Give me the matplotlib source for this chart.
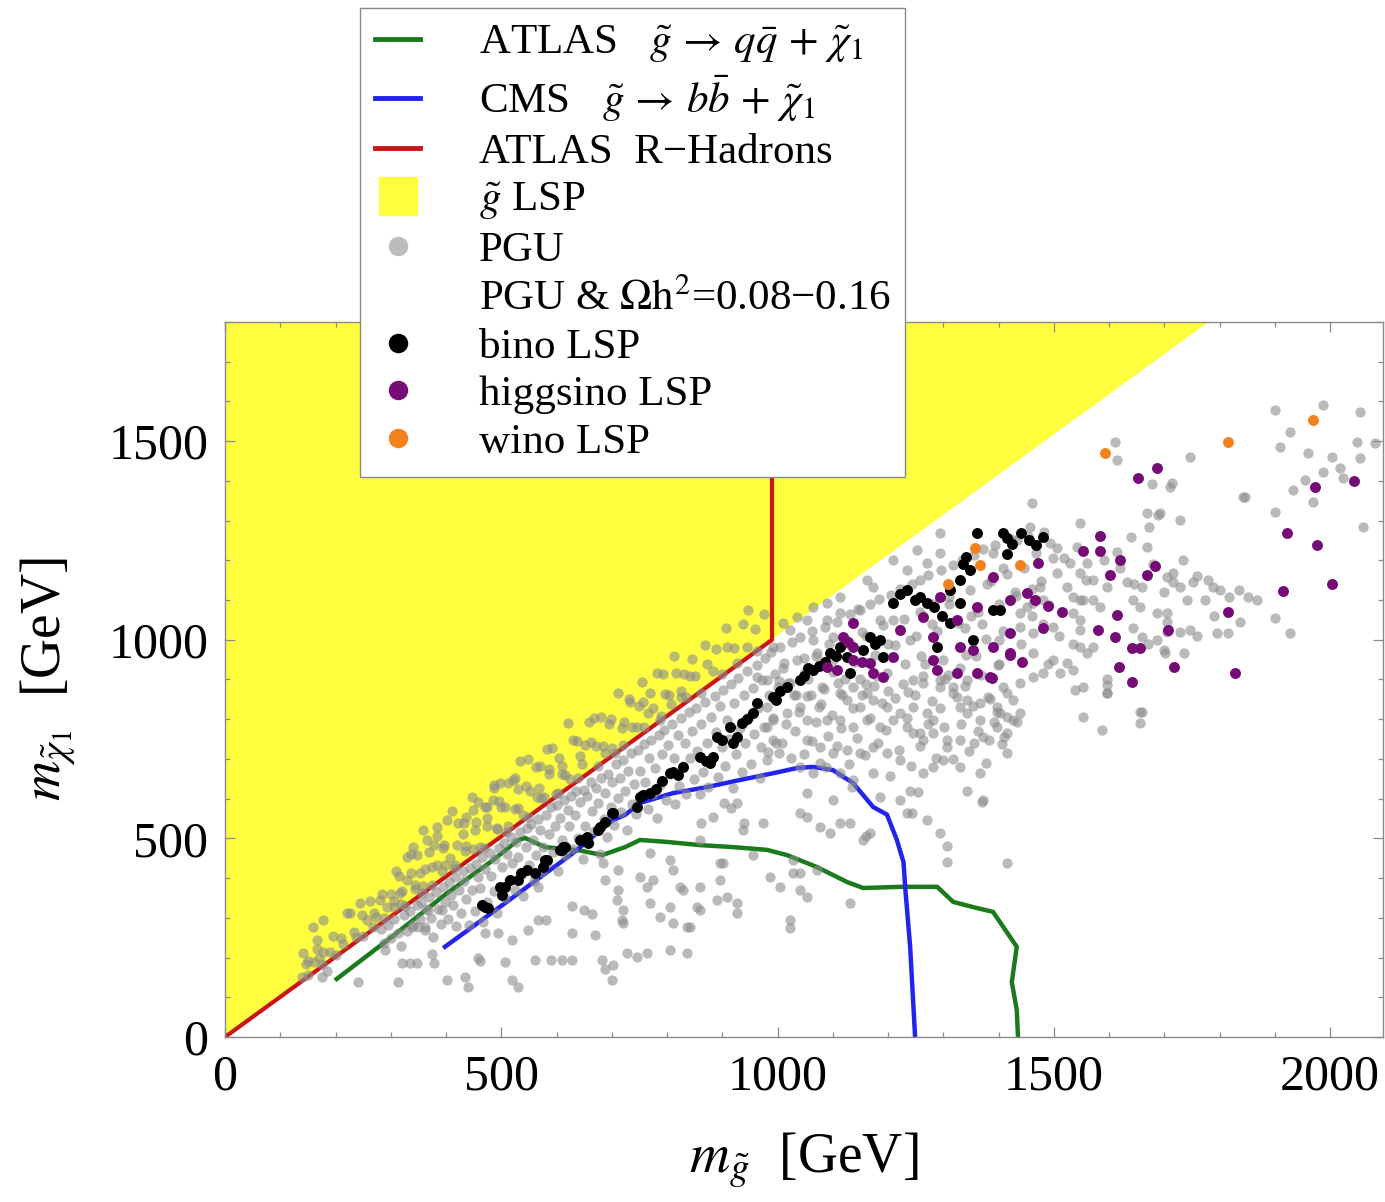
import numpy as np
import matplotlib.pyplot as plt
from matplotlib.lines import Line2D
from matplotlib.ticker import MultipleLocator

plt.rcParams['font.family'] = ['Liberation Serif', 'DejaVu Serif']
plt.rcParams['mathtext.fontset'] = 'stix'

# exclusion contours (m_gluino, m_neutralino) in GeV
atlas_x = [202, 300, 400, 480, 531, 543, 579, 640, 683, 724, 751, 800, 860, 920, 981,
           1017, 1071, 1126, 1155, 1222, 1289, 1318, 1354, 1390, 1433, 1424, 1433, 1435]
atlas_y = [146, 250, 360, 440, 496, 501, 478, 470, 458, 478, 496, 491, 483, 478, 471,
           458, 428, 390, 375, 378, 378, 340, 327, 315, 227, 138, 68, 5]
cms_x = [398, 500, 630, 702, 724, 751, 811, 872, 932, 992, 1035, 1064, 1100, 1137, 1173,
         1198, 1216, 1228, 1231, 1240, 1249]
cms_y = [227, 330, 463, 546, 559, 589, 614, 629, 647, 664, 677, 680, 672, 639, 579,
         560, 496, 440, 378, 227, 0]
rhad_x = [0, 990, 990]
rhad_y = [0, 1000, 1800]

# gluino LSP region
glu_lsp_x = [0, 1780, 0]
glu_lsp_y = [0, 1800, 1800]

# PGU points above the m_chi = m_gluino line
pgu_yellow = [
    (140, 151), (147, 184), (150, 156), (161, 188), (166, 222), (175, 184), (177, 214), (190, 213),
    (196, 253), (200, 206), (210, 249), (214, 234), (227, 311), (233, 265), (237, 252), (248, 306),
    (250, 255), (263, 343), (269, 312), (273, 302), (284, 360), (288, 300), (301, 361), (306, 328),
    (309, 417), (320, 367), (325, 330), (337, 413), (343, 383), (347, 457), (358, 380), (361, 424),
    (374, 383), (379, 483), (383, 432), (395, 476), (398, 432), (411, 570), (417, 432), (420, 483),
    (432, 538), (436, 480), (449, 474), (455, 541), (458, 591), (469, 475), (474, 551), (487, 635),
    (492, 527), (496, 595), (507, 578), (512, 531), (524, 652), (530, 576), (534, 694), (545, 633),
    (549, 554), (562, 679), (568, 627), (571, 602), (583, 725), (587, 663), (599, 611), (605, 702),
    (609, 662), (620, 790), (625, 649), (637, 745), (643, 707), (646, 686), (658, 794), (662, 743),
    (675, 682), (680, 805), (684, 733), (695, 788), (700, 728), (712, 865), (718, 779), (721, 736),
    (733, 844), (737, 780), (750, 832), (755, 894), (759, 780), (770, 867), (775, 829), (787, 797),
    (793, 913), (796, 863), (808, 839), (812, 959), (825, 871), (830, 915), (834, 857), (846, 951),
    (850, 909), (862, 867), (868, 988), (872, 940), (884, 921), (888, 977), (900, 914), (906, 1030),
    (909, 981), (921, 979), (926, 942), (938, 1040), (944, 981), (947, 1074), (959, 1028),
    (963, 971), (976, 1066),
    (305, 342), (314, 406), (318, 334), (330, 396), (336, 461), (344, 373), (353, 412), (357, 362),
    (369, 466), (375, 427), (383, 507), (392, 417), (396, 484), (408, 451), (414, 426), (422, 539),
    (431, 512), (435, 469), (447, 605), (453, 522), (461, 479), (470, 579), (474, 531), (486, 627),
    (492, 523), (500, 580), (509, 517), (513, 640), (525, 575), (531, 625), (539, 559), (548, 700),
    (552, 618), (564, 605), (570, 683), (578, 604), (587, 674), (591, 727), (603, 614), (609, 681),
    (615, 659), (629, 747), (638, 653), (651, 734), (667, 804), (672, 732), (688, 715), (699, 800),
    (706, 715), (722, 793), (731, 851), (745, 780), (757, 843), (766, 815), (781, 916), (789, 809),
    (803, 862), (817, 916), (826, 857), (841, 910),
    (141, 211), (160, 277), (166, 245), (178, 295), (220, 312), (244, 337), (257, 295), (268, 277),
    (280, 345), (293, 327), (317, 362), (329, 453), (340, 478), (358, 521), (365, 496), (383, 529),
    (401, 546), (437, 554), (449, 571), (474, 579), (485, 597), (498, 639), (521, 647),
]

# PGU points in the dense band just below the diagonal
pgu_band = [
    (283, 271), (288, 236), (295, 281), (301, 249), (306, 297), (313, 262), (318, 229), (324, 307),
    (329, 268), (335, 318), (341, 281), (347, 333), (352, 297), (355, 341), (361, 270), (364, 322),
    (369, 352), (373, 299), (377, 251), (382, 366), (386, 323), (391, 284), (394, 378), (398, 341),
    (403, 296), (405, 389), (409, 358), (412, 331), (416, 402), (418, 279), (423, 371), (427, 312),
    (430, 418), (433, 392), (437, 347), (441, 283), (444, 426), (447, 369), (452, 318), (455, 436),
    (458, 402), (461, 376), (465, 452), (467, 290), (471, 423), (475, 339), (479, 463), (482, 405),
    (486, 368), (489, 448), (493, 311), (496, 476), (501, 427), (504, 488), (507, 349), (510, 461),
    (514, 396), (517, 503), (520, 439), (524, 369), (527, 491), (530, 452), (534, 517), (537, 411),
    (540, 355), (544, 479), (547, 527), (551, 433), (554, 536), (557, 497), (560, 393), (563, 458),
    (567, 548), (570, 521), (573, 416), (576, 479), (580, 559), (583, 438), (587, 511), (590, 578),
    (593, 466), (597, 531), (601, 584), (603, 417), (606, 551), (610, 496), (613, 597), (616, 458),
    (620, 571), (623, 531), (626, 606), (629, 473), (633, 559), (636, 618), (639, 501), (643, 591),
    (647, 448), (649, 623), (652, 531), (656, 606), (659, 488), (662, 641), (665, 568), (668, 519),
    (672, 627), (675, 589), (678, 461), (681, 651), (685, 549), (688, 613), (691, 503), (694, 662),
    (698, 579), (701, 641), (704, 533), (708, 686), (711, 602), (714, 651), (717, 566), (721, 697),
    (724, 619), (727, 521), (730, 669), (734, 714), (737, 587), (741, 638), (744, 561), (747, 723),
    (751, 669), (754, 608), (758, 737), (761, 641), (765, 574), (768, 703), (771, 748), (774, 611),
    (778, 677), (781, 552), (785, 759), (788, 634), (791, 713), (795, 773), (798, 596), (802, 734),
    (805, 661), (809, 789), (812, 702), (815, 587), (819, 759), (822, 633), (825, 804), (829, 681),
    (832, 741), (835, 612), (839, 818), (842, 703), (846, 771), (849, 649), (852, 829), (855, 721),
    (859, 611), (862, 788), (865, 668), (869, 843), (872, 741), (875, 629), (879, 806), (882, 702),
    (886, 859), (889, 769), (892, 654), (896, 833), (899, 731), (902, 873), (905, 681), (909, 798),
    (912, 751), (915, 889), (919, 628), (922, 841), (925, 712), (929, 903), (932, 778), (935, 667),
    (939, 861), (942, 739), (945, 921), (949, 806), (952, 688), (955, 879), (958, 763), (962, 937),
    (965, 829), (968, 651), (972, 898), (975, 781), (978, 953), (982, 718), (985, 861), (988, 968),
    (992, 802), (995, 913), (998, 741),
]

# sparse PGU points well below the diagonal
pgu_sparse = [
    (150, 190), (170, 200), (176, 151), (185, 165), (241, 138), (290, 219), (313, 138), (320, 186),
    (335, 186), (338, 277), (348, 186), (350, 277), (362, 277), (367, 320), (375, 210), (378, 186),
    (392, 320), (402, 143), (434, 150), (440, 125), (458, 200), (461, 190), (471, 262), (494, 262),
    (507, 188), (520, 244), (520, 143), (530, 125), (548, 270), (561, 195), (567, 295), (567, 378),
    (580, 295), (590, 195), (610, 195), (628, 195), (628, 262), (628, 330), (650, 320), (665, 310),
    (670, 257), (683, 195), (688, 170), (688, 395), (700, 143), (702, 180), (711, 370), (718, 295),
    (711, 420), (684, 438), (709, 345), (720, 320), (720, 287), (727, 211), (745, 201), (751, 403),
    (764, 211), (764, 378), (769, 463), (769, 337), (775, 395), (787, 302), (805, 445), (805, 327),
    (805, 219), (811, 420), (811, 287), (824, 378), (829, 370), (836, 277), (836, 211), (842, 277),
    (854, 327), (860, 378), (860, 320), (860, 496), (862, 539), (883, 554), (890, 345), (896, 395),
    (896, 438), (902, 438), (903, 589), (908, 352), (916, 576), (927, 337), (927, 312), (927, 589),
    (938, 521), (940, 539), (956, 458), (974, 539), (986, 403), (1005, 378), (1023, 295),
    (1023, 274), (1028, 413), (1028, 445), (1041, 413), (1041, 370), (1041, 564), (1053, 352),
    (1053, 554), (1053, 614), (1071, 420), (1077, 529), (1095, 514), (1100, 597), (1113, 539),
    (1131, 539), (1131, 337), (1135, 629), (1155, 496), (1161, 505), (1167, 514), (1243, 564),
    (1254, 617), (1306, 440), (1366, 664), (1370, 592), (1372, 597), (1415, 438),
]

# PGU points at heavier gluino masses
pgu_upper = [
    (1010, 1042), (1035, 1057), (1064, 1082), (1090, 1092), (1113, 1108), (1162, 1150), (1209, 1200),
    (1252, 1226), (1294, 1268), (992, 982), (1023, 1024), (1035, 949), (1053, 1050), (1064, 999),
    (1090, 1050), (1100, 1007), (1113, 1067), (1149, 1075), (1173, 1133), (1186, 1050), (1209, 1050),
    (1234, 1175), (1258, 1150), (1271, 1193), (1294, 1218), (1390, 1218), (1433, 1251), (963, 906),
    (981, 899), (1002, 895), (1023, 891), (981, 831), (992, 798), (1017, 815), (1041, 831),
    (1053, 798), (1075, 831), (1090, 798), (1113, 866), (1137, 881), (1162, 866), (1126, 848),
    (1149, 831), (1173, 848), (1198, 831), (1222, 815), (1246, 831), (1271, 815), (1113, 798),
    (1137, 780), (1162, 798), (1186, 780), (1209, 798), (1234, 780), (1258, 765), (1281, 798),
    (1306, 748), (1053, 748), (1077, 731), (1100, 714), (1126, 722), (1149, 714), (1173, 731),
    (1198, 714), (1222, 697), (1041, 680), (1064, 664), (1088, 680), (1113, 664), (1137, 647),
    (1173, 664), (981, 780), (992, 748), (1003, 714), (970, 731), (981, 697), (1246, 765),
    (1263, 748), (1281, 765), (1306, 731), (1330, 748), (1356, 740), (1382, 748), (1263, 664),
    (1281, 680), (1300, 697), (1330, 680), (1343, 620), (1186, 604), (1222, 597), (1234, 564),
    (1240, 620), (1271, 546), (1294, 513), (1306, 480), (1330, 831), (1343, 815), (1366, 798),
    (1397, 780), (1415, 714), (1294, 881), (1318, 866), (1343, 848), (1366, 840), (1397, 831),
    (1439, 815), (1246, 899), (1263, 891), (1294, 899), (1318, 881), (1343, 899), (1397, 818),
    (1415, 805), (1433, 793), (1372, 755), (1409, 755), (1587, 773), (1660, 818), (1596, 866),
    (1596, 901), (1538, 873), (1381, 856), (1415, 866), (1611, 1498), (1614, 1452), (1747, 1460),
    (1900, 1578), (1988, 1591), (2054, 1573), (1928, 1523), (1910, 1485), (1960, 1470),
    (2003, 1460), (2049, 1498), (2081, 1495), (2018, 1432), (2054, 1457), (1988, 1422), (2024, 1407),
    (1955, 1402), (1933, 1377), (1969, 1347), (1846, 1359), (1900, 1321), (2060, 1284), (1678, 1392),
    (1710, 1384), (1689, 1314), (1728, 1301), (1673, 1284), (1669, 1233), (1734, 1200), (1752, 1146),
    (1705, 1158), (1716, 1168), (1788, 1133), (1800, 1125), (1818, 1108), (1836, 1125), (1852, 1108),
    (1868, 1100), (1774, 1100), (1837, 1045), (1900, 1054), (1928, 1017), (1816, 1017), (1795, 1017),
    (1747, 1024), (1741, 1100), (1705, 1045), (1701, 966), (1656, 818), (1596, 886), (1547, 1024),
    (1493, 1243), (1506, 1230), (1518, 1205), (1529, 1193), (1547, 1168), (1559, 1150), (1571, 1150),
    (1547, 1100), (1571, 1100), (1584, 1082), (1632, 1146), (1645, 1140), (1660, 1133), (1716, 1146),
    (1728, 1133), (1643, 1100), (1656, 1082), (1686, 1067), (1705, 1067), (1547, 982), (1571, 982),
    (1499, 949), (1524, 941), (1463, 906), (1481, 916), (1408, 881), (1427, 848), (1403, 815),
    (1427, 798), (1415, 765), (1463, 1017), (1499, 1032), (1439, 1067), (1463, 1092), (1457, 1284),
    (1460, 1344), (1547, 1294), (1542, 1233), (1560, 1193), (1596, 1133), (1553, 1100), (1535, 1067),
    (1547, 1050), (1524, 1133), (1535, 1108), (1506, 1168), (1475, 1133), (1452, 1082), (1481, 1040),
    (1510, 1010), (1535, 990), (1560, 966), (1463, 966), (1490, 940), (1512, 916), (1535, 925),
    (1439, 890), (1553, 881), (1596, 866), (1643, 1030), (1660, 1007), (1686, 1000), (1705, 1020),
    (1728, 1020), (1760, 1010), (1790, 1060), (1670, 990), (1700, 975), (1735, 966), (1553, 805),
    (1656, 790), (1669, 1319), (1692, 1319), (1714, 1394), (1843, 1359), (1614, 1220), (1640, 1260),
    (1590, 1200), (1620, 1180), (1760, 1160), (1780, 1150), (1700, 1120), (1680, 1190),
    (1430, 1120), (1408, 1180), (1380, 1140), (1350, 1060), (1310, 1090), (1280, 1040),
    (1240, 1000), (1200, 990), (1160, 1010), (1130, 990), (1100, 950), (1070, 960), (1050, 920),
    (1230, 940), (1260, 960), (1300, 950), (1340, 1030), (1370, 1040), (1400, 1000), (1440, 990),
    (1460, 1060), (1480, 1100), (1400, 940), (1360, 960), (1330, 930), (1200, 870), (1180, 910),
    (1150, 900), (1110, 890), (1080, 880), (1060, 860), (1030, 860), (1010, 930), (1000, 880),
    (1004, 981), (1012, 942), (1019, 892), (1026, 995), (1033, 861), (1041, 1008), (1048, 953),
    (1056, 902), (1063, 1021), (1071, 967), (1078, 838), (1086, 1033), (1093, 989), (1101, 919),
    (1108, 1046), (1116, 861), (1123, 1002), (1131, 1064), (1138, 943), (1146, 1078), (1153, 1019),
    (1161, 889), (1168, 1089), (1176, 961), (1183, 1102), (1191, 1037), (1198, 917), (1206, 1113),
    (1213, 988), (1221, 1129), (1228, 1052), (1236, 869), (1243, 1141), (1251, 1009), (1258, 1071),
    (1266, 938), (1273, 1163), (1281, 1089), (1288, 1021), (1296, 1176), (1303, 902), (1311, 1108),
    (1318, 1189), (1326, 1043), (1333, 1201), (1341, 961), (1348, 1126), (1356, 1213), (1363, 1069),
    (1371, 1229), (1378, 1001), (1386, 1147), (1393, 1238), (1401, 1089), (1408, 1021), (1416, 1166),
    (1423, 1254), (1431, 1109), (1438, 1031), (1446, 1181), (1453, 1261), (1461, 1128), (1468, 1219),
    (1476, 1149), (1483, 1271), (1491, 1087), (1498, 1207), (1008, 741), (1016, 789), (1024, 702),
    (1032, 771), (1039, 818), (1047, 713), (1054, 859), (1062, 744), (1069, 792), (1077, 689),
    (1084, 876), (1092, 757), (1099, 811), (1107, 733), (1114, 778), (1122, 902), (1129, 688),
    (1137, 829), (1144, 752), (1152, 861), (1159, 711), (1167, 803), (1174, 884), (1182, 741),
    (1189, 842), (1197, 772), (1204, 658), (1212, 853), (1219, 722), (1227, 889), (1234, 803),
    (1242, 681), (1249, 862), (1257, 733), (1264, 908), (1272, 788), (1279, 846), (1287, 702),
    (1294, 828), (1302, 781), (1309, 912), (1317, 701), (1324, 856), (1332, 789), (1339, 884),
    (1347, 721), (1354, 832), (1362, 771), (1369, 912), (1377, 689), (1384, 851), (1392, 792),
    (1399, 936), (1407, 737),
]

# PGU points with 0.08 < Omega h^2 < 0.16, by LSP type
bino = [
    (465, 332), (470, 327), (476, 325), (498, 378), (501, 357), (507, 378), (515, 395), (530, 395),
    (535, 413), (547, 420), (561, 413), (576, 428), (579, 445), (583, 445), (606, 470), (610, 470),
    (612, 478), (615, 478), (643, 496), (646, 496), (655, 503), (657, 488), (675, 521), (679, 529),
    (688, 540), (700, 564), (702, 564), (746, 579), (751, 604), (757, 610), (769, 614), (780, 625),
    (790, 645), (805, 664), (811, 668), (820, 660), (829, 680), (860, 705), (870, 695), (878, 690),
    (883, 705), (890, 755), (900, 748), (914, 780), (920, 740), (926, 755), (935, 790), (945, 800),
    (955, 815), (963, 840), (992, 856), (998, 848), (1005, 870), (1017, 881), (1040, 899), (1048, 910),
    (1055, 930), (1065, 924), (1075, 935), (1085, 945), (1095, 966), (1105, 960), (1113, 982),
    (1126, 956), (1131, 916), (1155, 974), (1167, 1007), (1176, 990), (1186, 999), (1191, 956),
    (1209, 1092), (1222, 1115), (1235, 1125), (1248, 1100), (1258, 1108), (1270, 1092), (1283, 1082),
    (1289, 982), (1298, 1060), (1312, 1042), (1312, 1125), (1330, 1092), (1330, 1150), (1336, 1190),
    (1342, 1208), (1348, 1175), (1354, 999), (1361, 1268), (1390, 1075), (1408, 1268), (1415, 1257),
    (1425, 1240), (1440, 1268), (1455, 1250), (1468, 1238), (1481, 1260), (1415, 1215), (1403, 1075),
]
higgsino = [
    (1090, 931), (1108, 924), (1119, 1007), (1128, 995), (1137, 982), (1137, 1042), (1137, 949),
    (1152, 945), (1167, 941), (1173, 916), (1191, 906), (1209, 956), (1222, 1024), (1263, 1057),
    (1281, 1007), (1281, 949), (1289, 924), (1294, 1108), (1325, 1050), (1325, 916), (1330, 982),
    (1354, 974), (1361, 916), (1361, 1082), (1385, 906), (1388, 903), (1390, 982), (1390, 1158),
    (1421, 1017), (1421, 966), (1421, 1100), (1421, 962), (1442, 944), (1451, 1118), (1466, 1100),
    (1471, 1193), (1481, 1029), (1490, 1085), (1515, 1070), (1553, 1223), (1580, 1024), (1584, 1261),
    (1584, 1223), (1602, 1163), (1611, 1007), (1614, 1062), (1618, 931), (1620, 1200), (1641, 894),
    (1641, 979), (1653, 1407), (1656, 979), (1669, 1163), (1683, 1185), (1686, 1432), (1707, 1024),
    (1718, 931), (1816, 1070), (1828, 916), (1915, 1123), (1922, 1269), (1973, 1384), (1977, 1238),
    (2004, 1140), (2044, 1400),
]
wino = [(1308, 1140), (1357, 1230), (1366, 1188), (1439, 1188), (1593, 1470), (1816, 1498),
        (1969, 1553)]

x_ticks = [0, 500, 1000, 1500, 2000]
y_ticks = [0, 500, 1000, 1500]

yellow = '#ffff40'
c_gray = '#8c8c8c'
c_atlas = '#1b7a1b'
c_cms = '#2323ee'
c_rhad = '#cc1414'
c_bino = 'black'
c_higgsino = '#760a76'
c_wino = '#f2821e'

fig = plt.figure(figsize=(13.85, 12.02), dpi=100)
ax = fig.add_axes([0.1625, 0.1373, 0.8361, 0.5948])

ax.fill(glu_lsp_x, glu_lsp_y, color=yellow, lw=0, zorder=0)

ax.plot(rhad_x, rhad_y, color=c_rhad, lw=3, zorder=1)
ax.plot(atlas_x, atlas_y, color=c_atlas, lw=3.2, zorder=1)
ax.plot(cms_x, cms_y, color=c_cms, lw=3.2, zorder=1)

pgu = np.array(pgu_yellow + pgu_band + pgu_sparse + pgu_upper)
ax.scatter(pgu[:, 0], pgu[:, 1], s=55, color=c_gray, alpha=0.6, lw=0, zorder=2)

for pts, col in [(bino, c_bino), (higgsino, c_higgsino), (wino, c_wino)]:
    p = np.array(pts)
    ax.scatter(p[:, 0], p[:, 1], s=62, color=col, lw=0, zorder=3)

ax.set_xlim(0, 2096)
ax.set_ylim(0, 1800)
ax.set_xticks(x_ticks)
ax.set_yticks(y_ticks)
ax.xaxis.set_minor_locator(MultipleLocator(100))
ax.yaxis.set_minor_locator(MultipleLocator(100))
ax.tick_params(which='both', direction='in', top=True, right=True, color='#8a8a8a',
               labelsize=36, width=0.9)
ax.tick_params(which='major', length=7, pad=12)
ax.tick_params(which='minor', length=3.5)
for sp in ax.spines.values():
    sp.set_color('#8a8a8a')
    sp.set_linewidth(1.0)

ax.set_xlabel(r'$m_{\tilde{g}}$  [GeV]', fontsize=40, labelpad=22)
ax.set_ylabel(r'$m_{\tilde{\chi}_1}$  [GeV]', fontsize=40, labelpad=22)

handles = [
    Line2D([], [], color=c_atlas, lw=3.5),
    Line2D([], [], color=c_cms, lw=3.5),
    Line2D([], [], color=c_rhad, lw=3.5),
    Line2D([], [], color=yellow, marker='s', ms=28, ls='none'),
    Line2D([], [], color='#bcbcbc', marker='o', ms=13, ls='none'),
    Line2D([], [], ls='none'),
    Line2D([], [], color=c_bino, marker='o', ms=13, ls='none'),
    Line2D([], [], color=c_higgsino, marker='o', ms=13, ls='none'),
    Line2D([], [], color=c_wino, marker='o', ms=13, ls='none'),
]
labels = [
    r'ATLAS   $\tilde{g}\,\rightarrow\,q\bar{q}\,+\,\tilde{\chi}_1$',
    r'CMS   $\tilde{g}\,\rightarrow\,b\bar{b}\,+\,\tilde{\chi}_1$',
    'ATLAS  R\u2212Hadrons',
    r'$\tilde{g}$ LSP',
    'PGU',
    r'PGU & $\Omega\mathrm{h}^2$=0.08' + '\u2212' + '0.16',
    'bino LSP',
    'higgsino LSP',
    'wino LSP',
]
leg = fig.legend(handles, labels, loc='upper left', bbox_to_anchor=(0.26, 0.9933),
                 borderaxespad=0, fontsize=31, handlelength=1.05, handletextpad=1.35,
                 labelspacing=0.2, borderpad=0.35, fancybox=False, framealpha=1,
                 edgecolor='#8a8a8a')
leg.get_frame().set_linewidth(1.0)
leg.set_zorder(10)

fig.savefig('out.png', dpi=100)
